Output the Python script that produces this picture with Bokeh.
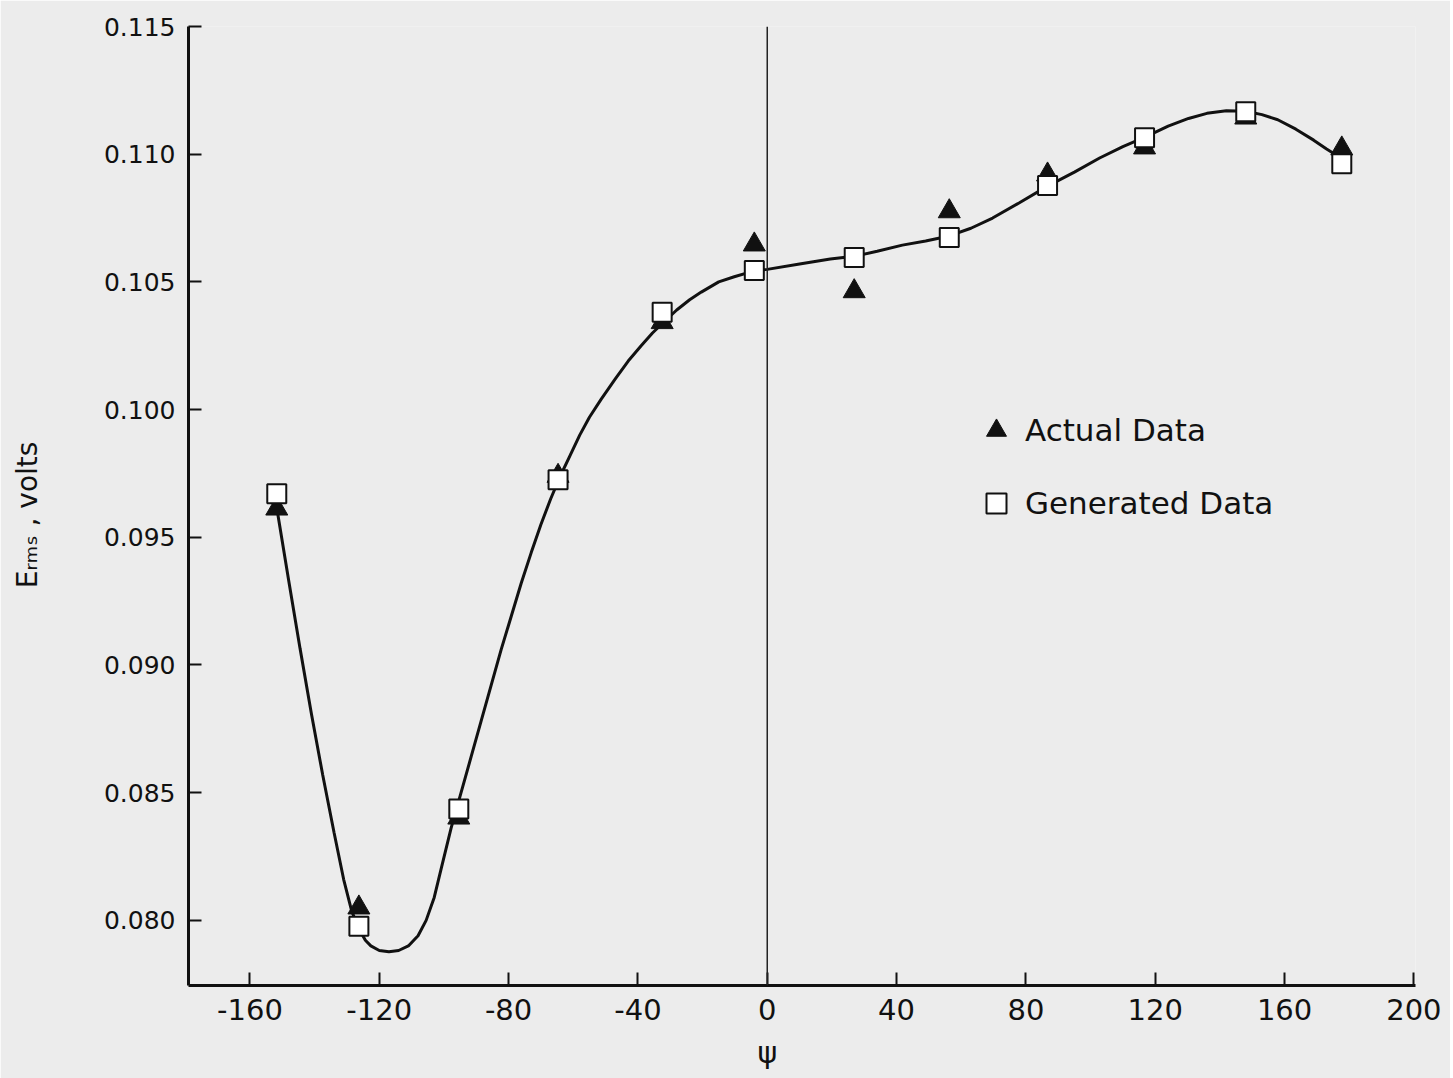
from bokeh.plotting import figure
from bokeh.models import Range1d, FixedTicker, NumeralTickFormatter, Span, Legend, LegendItem, Title
from bokeh.embed import file_html
from bokeh.resources import INLINE

# ---- data ----
psi = [-151.7, -126.3, -95.4, -64.7, -32.5, -4.0, 26.9, 56.3, 86.7, 116.7, 148.0, 177.7]
actual = [0.09612, 0.08050, 0.08402, 0.09740, 0.10342, 0.10646, 0.10463, 0.10776, 0.10920, 0.11026, 0.11143, 0.11022]
generated = [0.09670, 0.07977, 0.08436, 0.09725, 0.10381, 0.10545, 0.10596, 0.10674, 0.10877, 0.11064, 0.11166, 0.10963]

# hand-drawn smooth curve, traced point by point
curve_x = [-151.5, -148.0, -144.5, -141.0, -137.5, -134.0, -131.0, -128.5, -126.2, -124.3, -122.6,
           -120.0, -117.0, -114.0, -111.0, -108.0, -105.5, -103.0, -100.9, -97.8, -94.7, -91.6,
           -88.5, -85.4, -82.3, -79.2, -76.1, -73.0, -70.0, -67.0, -64.0, -61.0, -58.0, -55.0,
           -51.4, -47.0, -43.0, -39.0, -35.5, -32.2, -28.0, -24.0, -20.4, -15.0, -10.2, -4.3, 0.0,
           10.0, 19.5, 26.9, 34.0, 41.8, 49.0, 56.3, 63.0, 69.7, 78.0, 86.7, 95.0, 102.8, 110.0,
           117.0, 124.0, 130.3, 136.0, 142.0, 148.0, 153.0, 157.9, 163.5, 169.0, 173.0, 176.8]
curve_y = [0.09600, 0.09330, 0.09065, 0.08810, 0.08570, 0.08345, 0.08160, 0.08035, 0.07965, 0.07922,
           0.07900, 0.07882, 0.07877, 0.07882, 0.07900, 0.07940, 0.08000, 0.08090, 0.08200, 0.08360,
           0.08500, 0.08640, 0.08780, 0.08920, 0.09060, 0.09190, 0.09320, 0.09440, 0.09550, 0.09650,
           0.09740, 0.09820, 0.09900, 0.09970, 0.10040, 0.10120, 0.10190, 0.10250, 0.10300, 0.10340,
           0.10390, 0.10430, 0.10460, 0.10500, 0.10520, 0.10542, 0.10549, 0.10570, 0.10590, 0.10600,
           0.10620, 0.10644, 0.10660, 0.10680, 0.10710, 0.10750, 0.10810, 0.10875, 0.10930, 0.10985,
           0.11030, 0.11068, 0.11110, 0.11140, 0.11160, 0.11170, 0.11168, 0.11155, 0.11135, 0.11098,
           0.11055, 0.11020, 0.10990]

x_ticks = [-160, -120, -80, -40, 0, 40, 80, 120, 160, 200]
x_tick_labels = ["-160", "-120", "-80", "-40", "0", "40", "80", "120", "160", "200"]
y_ticks = [0.080, 0.085, 0.090, 0.095, 0.100, 0.105, 0.110, 0.115]

BG = "#ececec"
INK = "#111111"
FONT = "DejaVu Sans"

p = figure(frame_width=1227, frame_height=959, output_backend="svg", toolbar_location=None,
           x_range=Range1d(-179, 200.5), y_range=Range1d(0.07745, 0.115),
           min_border_left=188, min_border_top=26, min_border_right=35, min_border_bottom=88,
           background_fill_color=BG, border_fill_color=BG)
p.outline_line_color = None
p.grid.visible = False

for ax in (p.xaxis[0], p.yaxis[0]):
    ax.axis_line_width = 3
    ax.axis_line_color = INK
    ax.major_tick_in = 13
    ax.major_tick_out = 0
    ax.major_tick_line_width = 2
    ax.major_tick_line_color = INK
    ax.minor_tick_line_color = None
    ax.major_label_text_color = INK
    ax.major_label_standoff = 13

p.xaxis.ticker = FixedTicker(ticks=x_ticks)
p.xaxis.major_label_overrides = {t: s for t, s in zip(x_ticks, x_tick_labels)}
p.yaxis.ticker = FixedTicker(ticks=y_ticks)
p.yaxis.formatter = NumeralTickFormatter(format="0.000")
p.xaxis.major_label_text_font = FONT
p.xaxis.major_label_text_font_size = "29px"
p.yaxis.major_label_text_font = FONT
p.yaxis.major_label_text_font_size = "25px"

# y-axis title
p.yaxis.axis_label = "E\u1d63\u2098\u209b  ,  volts"
p.yaxis.axis_label_text_font = FONT
p.yaxis.axis_label_text_font_size = "28px"
p.yaxis.axis_label_text_font_style = "normal"
p.yaxis.axis_label_text_color = INK
p.yaxis.axis_label_standoff = 57

# x-axis title (psi), placed under x = 0
p.add_layout(Title(text="ψ", align="left", offset=569, standoff=20, text_font=FONT,
                   text_font_size="30px", text_font_style="normal", text_color=INK), "below")

# zero line
p.add_layout(Span(location=0, dimension="height", line_color="#222222", line_width=1.5))

# curve and markers
p.line(curve_x, curve_y, line_color=INK, line_width=3)
r_act = p.scatter(psi, actual, marker="triangle", size=22, fill_color=INK, line_color=INK)
r_gen = p.scatter(psi, generated, marker="square", size=19, fill_color="white", line_color=INK, line_width=2)

legend = Legend(items=[LegendItem(label="Actual Data", renderers=[r_act]),
                       LegendItem(label="Generated Data", renderers=[r_gen])],
                location=(783, 457), padding=0, margin=0, spacing=23,
                glyph_width=50, glyph_height=50, label_standoff=4,
                label_text_font=FONT, label_text_font_size="31px", label_text_color=INK,
                border_line_alpha=0, background_fill_alpha=0)
p.add_layout(legend, "center")

open("out.html", "w").write(file_html(p, INLINE))
